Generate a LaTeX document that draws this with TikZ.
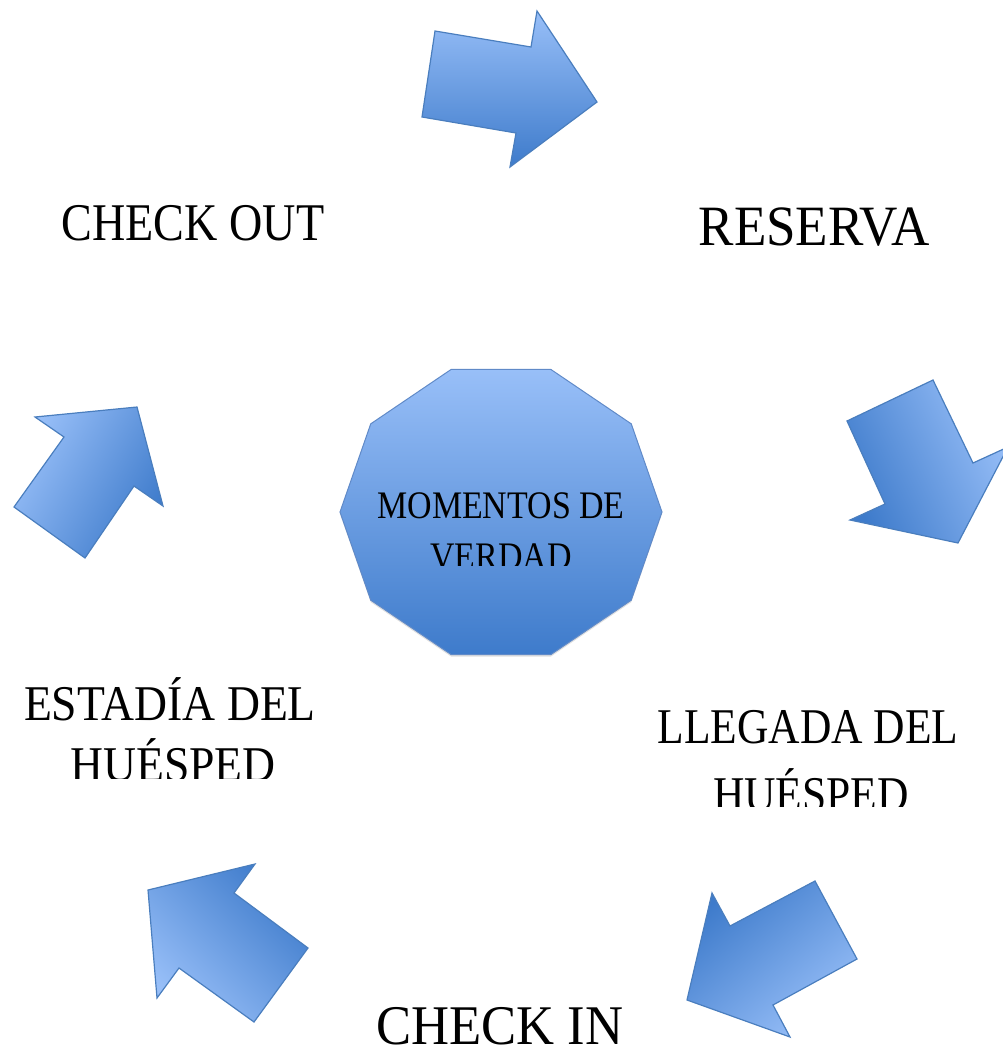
\documentclass[tikz,border=0pt]{standalone}
\usepackage{fontspec}
\setmainfont{Liberation Serif}[FakeStretch=0.87]
\usetikzlibrary{shadows}
\definecolor{arrowlight}{RGB}{152,191,248}
\definecolor{arrowdark}{RGB}{62,123,203}
\definecolor{arrowedge}{RGB}{74,126,190}
\definecolor{hubedge}{RGB}{96,138,200}
\begin{document}
\begin{tikzpicture}[x=1pt, y=-1pt,
		blockarrow/.style={draw=arrowedge, line width=1.2pt, line join=miter},
		hub/.style={draw=hubedge, line width=1pt, top color=arrowlight, bottom color=arrowdark,
			drop shadow={opacity=0.25, shadow xshift=0pt, shadow yshift=-2pt}},
		label/.style={anchor=base, inner sep=0pt, text=black},
		wide/.style={xscale=#1, transform shape}]
		\useasboundingbox (0,0) rectangle (1003,1047);
		% block arrows, clockwise from the top
		\path[blockarrow, top color=arrowlight, bottom color=arrowdark]
		(435,31) -- (531,47) -- (537,11) -- (597,102) -- (510,167) -- (516,133) -- (422,117) -- cycle;
		\path[blockarrow, top color=arrowlight, bottom color=arrowdark, shading angle=-65]
		(847,421) -- (933,380) -- (973,463) -- (1008,447) -- (958,543) -- (850,520) -- (885,504) -- cycle;
		\path[blockarrow, top color=arrowdark, bottom color=arrowlight, shading angle=40]
		(815,881) -- (857,959) -- (773,1005) -- (790,1037) -- (687,1000) -- (712,893) -- (730,926) -- cycle;
		\path[blockarrow, top color=arrowdark, bottom color=arrowlight, shading angle=-45]
		(148,890) -- (255,864) -- (234,893) -- (308,948) -- (254,1022) -- (179,968) -- (157,998) -- cycle;
		\path[blockarrow, top color=arrowlight, bottom color=arrowdark, shading angle=60]
		(35,417) -- (137,407) -- (163,506) -- (134,486) -- (85,558) -- (14,507) -- (64,437) -- cycle;
		% centre decagon
		\path[hub] (662,512) \foreach \a in {36,72,...,324} { -- ([shift={(501,512)}]\a:161 and 150) } -- cycle;
		\begin{scope}
			\clip (0,0) rectangle (1003,565);
			\node[label] (hub) at (501,518) {\fontsize{39}{44}\selectfont MOMENTOS DE};
			\node[label] (hub2) at (501,569) {\fontsize{39}{44}\selectfont VERDAD};
		\end{scope}
		% labels
		\node[label, wide=1.07] (reserva) at (814,245) {\fontsize{57}{64}\selectfont RESERVA};
		\node[label] (checkout) at (193,240) {\fontsize{53}{60}\selectfont CHECK OUT};
		\node[label, wide=1.08] (checkin) at (500,1044) {\fontsize{56}{62}\selectfont CHECK IN};
		\node[label, wide=1.05] (estadia) at (170,720) {\fontsize{50}{56}\selectfont ESTADÍA DEL};
		\node[label] (llegada) at (808,743) {\fontsize{50}{56}\selectfont LLEGADA DEL};
		\begin{scope}
			\clip (0,0) rectangle (1003,778);
			\node[label, wide=1.05] (estadia2) at (173,781) {\fontsize{50}{56}\selectfont HUÉSPED};
		\end{scope}
		\begin{scope}
			\clip (500,0) rectangle (1003,806);
			\node[label] (llegada2) at (811,811) {\fontsize{50}{56}\selectfont HUÉSPED};
		\end{scope}
	\end{tikzpicture}
\end{document}
